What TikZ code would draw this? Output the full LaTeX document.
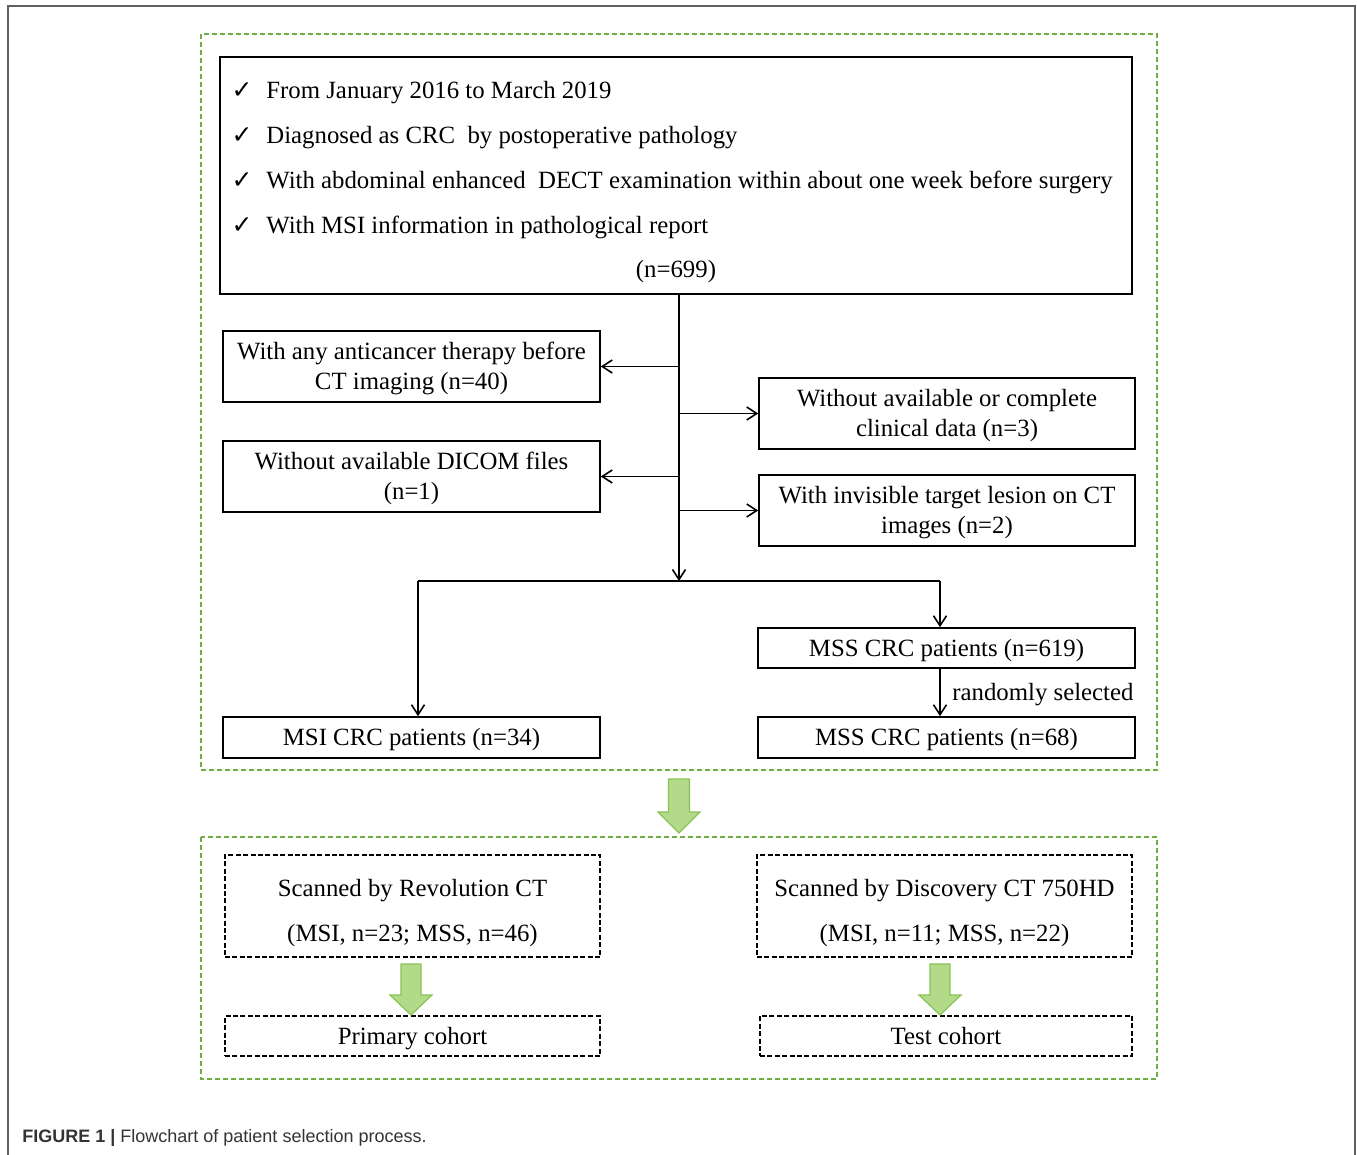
\documentclass[tikz,border=0pt]{standalone}
\usepackage{fontspec}
\setmainfont{Liberation Serif}
\newfontfamily\capfont{Liberation Sans}
\newfontfamily\symfont{DejaVu Sans}
\usetikzlibrary{arrows.meta,calc}
\definecolor{framegreen}{RGB}{112,173,71}
\definecolor{arrowfill}{RGB}{178,218,136}
\definecolor{arrowline}{RGB}{135,195,85}
\definecolor{framegray}{RGB}{95,95,95}
\newcommand{\twoline}[3]{\raisebox{-#1}[\height][\depth]{\begin{tabular}{@{}c@{}}#2\\#3\end{tabular}}}
\newcommand{\twolinegap}[3]{\raisebox{-#1}[\height][\depth]{\begin{tabular}{@{}c@{}}#2\\[7.5pt]#3\end{tabular}}}
\begin{document}
\begin{tikzpicture}[x=0.5pt,y=-0.5pt,
  mainfont/.style={font=\fontsize{12.4}{15}\selectfont},
  solidbox/.style={draw=black,line width=0.8pt,fill=white,inner sep=0pt,mainfont},
  dashbox/.style={draw=black,line width=0.7pt,dash pattern=on 2.5pt off 1.2pt,inner sep=0pt,mainfont},
  oneline/.style={text height=8.2pt,text depth=0pt},
  greenframe/.style={draw=framegreen,line width=0.6pt,dash pattern=on 2.5pt off 1.5pt},
  txt/.style={inner sep=0pt,mainfont},
  chk/.style={inner sep=0pt,font=\symfont\bfseries\fontsize{12.5}{14}\selectfont},
  arr/.style={line width=0.8pt,-{Straight Barb[length=5pt,width=6.5pt,line width=0.8pt]}},
  ln/.style={line width=0.8pt},
  bigarrow/.style={fill=arrowfill,draw=arrowline,line width=0.6pt,line join=miter}
]
\useasboundingbox (0,0) rectangle (1357,1155);
% outer frame
\draw[framegray,line width=1pt] (8,1160) -- (8,6) -- (1355,6) -- (1355,1160);
% green dashed frames
\draw[greenframe] (201,34) rectangle (1157,770);
\draw[greenframe] (201,837) rectangle (1157,1079);

% top box
\node[solidbox,minimum width=456pt,minimum height=118.5pt] (top) at (676,175.5) {};
\foreach \yy/\tt [count=\i] in {98.5/{From January 2016 to March 2019},143.5/{Diagnosed as CRC\ \ by postoperative pathology},188.5/{With abdominal enhanced\ \ DECT examination within about one week before surgery},233.5/{With MSI information in pathological report}}{
  \node[chk,anchor=base] (c\i) at (242,\yy) {✓};
  \node[txt,anchor=base west] (l\i) at (266,\yy) {\tt};
}
\node[txt,anchor=base] (n699) at (676,278) {(n=699)};

% exclusion boxes
\node[solidbox,minimum width=188.5pt,minimum height=35.5pt] (L1) at (411.5,366.5) {\twoline{1.2pt}{With any anticancer therapy before}{CT imaging (n=40)}};
\node[solidbox,minimum width=188pt,minimum height=35.5pt] (R1) at (947,413.5) {\twoline{1.2pt}{Without available or complete}{clinical data (n=3)}};
\node[solidbox,minimum width=188.5pt,minimum height=35.5pt] (L2) at (411.5,476.5) {\twoline{1.2pt}{Without available DICOM files}{(n=1)}};
\node[solidbox,minimum width=188pt,minimum height=35.5pt] (R2) at (947,510.5) {\twoline{1.2pt}{With invisible target lesion on CT}{images (n=2)}};

% result boxes
\node[solidbox,oneline,minimum width=188.5pt,minimum height=20pt] (M619) at (946.5,648) {MSS CRC patients (n=619)};
\node[solidbox,oneline,minimum width=188.5pt,minimum height=20.5pt] (M68) at (946.5,737.5) {MSS CRC patients (n=68)};
\node[solidbox,oneline,minimum width=188.5pt,minimum height=20.5pt] (MSI) at (411.5,737.5) {MSI CRC patients (n=34)};

% connectors
\coordinate (t0) at (679,294);
\coordinate (t1) at (679,581);
\coordinate (hl) at (418,581);
\coordinate (hr) at (940,581);
\draw[arr] (t0) -- (t1);
\draw[arr] (t0 |- L1.east) -- (L1.east);
\draw[arr] (t0 |- L2.east) -- (L2.east);
\draw[arr] (t0 |- R1.west) -- (R1.west);
\draw[arr] (t0 |- R2.west) -- (R2.west);
\draw[ln] (hl) -- (hr);
\draw[arr] (hl) -- (hl |- MSI.north);
\draw[arr] (hr) -- (hr |- M619.north);
\draw[arr] (hr |- M619.south) -- (hr |- M68.north);
\node[txt,anchor=base west] (rand) at (952,700) {randomly selected};

% big green arrow
\draw[bigarrow] (668.5,779) -- (689.5,779) -- (689.5,812) -- (700,812) -- (679,833) -- (658,812) -- (668.5,812) -- cycle;

% bottom boxes
\node[dashbox,minimum width=187.5pt,minimum height=51pt] (SA) at (412.5,906) {\twolinegap{3.6pt}{Scanned by Revolution CT}{(MSI, n=23; MSS, n=46)}};
\node[dashbox,minimum width=187.5pt,minimum height=51pt] (SB) at (944.5,906) {\twolinegap{3.6pt}{Scanned by Discovery CT 750HD}{(MSI, n=11; MSS, n=22)}};
\node[dashbox,oneline,minimum width=187.5pt,minimum height=20pt] (PC) at (412.5,1036) {Primary cohort};
\node[dashbox,oneline,minimum width=186pt,minimum height=20pt] (TC) at (946,1036) {Test cohort};

% small green arrows
\draw[bigarrow] (401,964) -- (421,964) -- (421,995) -- (432,995) -- (411,1015) -- (390,995) -- (401,995) -- cycle;
\draw[bigarrow] (930,964) -- (950,964) -- (950,995) -- (961,995) -- (940,1015) -- (919,995) -- (930,995) -- cycle;

% caption
\node[inner sep=0pt,anchor=base west,font=\capfont\fontsize{9}{11}\selectfont,text=black!80] (cap) at (22,1142) {\textbf{FIGURE 1 |} Flowchart of patient selection process.};
\end{tikzpicture}
\end{document}
